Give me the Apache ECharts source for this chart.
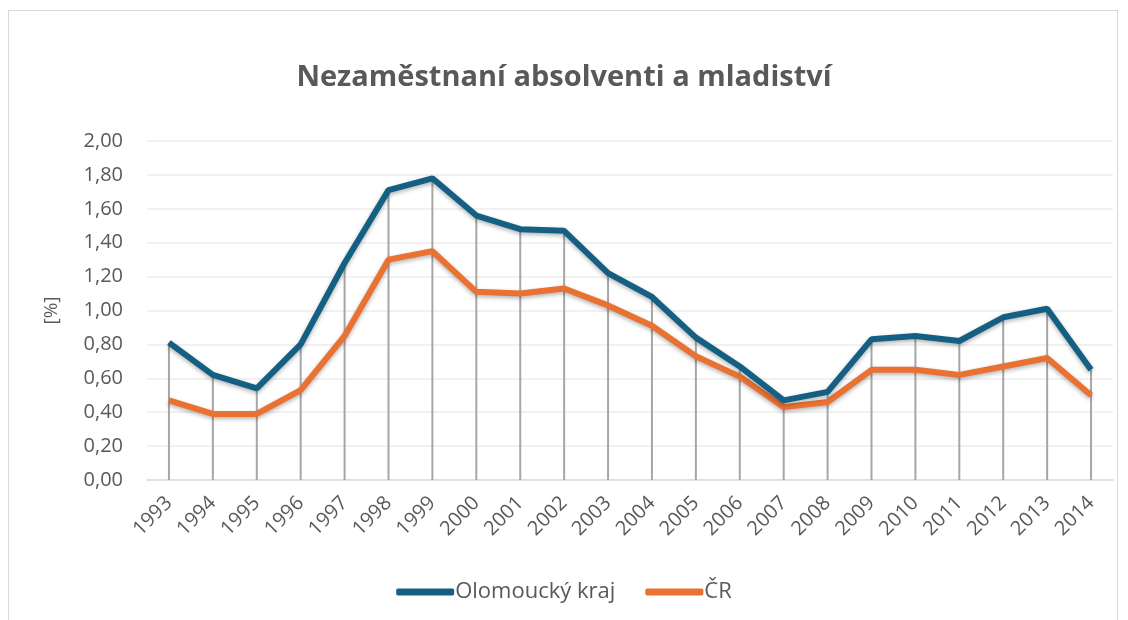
<!DOCTYPE html>
<html>
<head>
<meta charset="utf-8">
<script src="https://cdn.jsdelivr.net/npm/echarts@6/dist/echarts.min.js"></script>
<style>
  html, body { margin: 0; padding: 0; background: #fff; }
  #frame {
    position: absolute; left: 8px; top: 10px; width: 1110px; height: 620px;
    border: 1px solid #d9d9d9; box-sizing: border-box;
  }
  #chart { position: absolute; left: 0; top: 0; width: 1128px; height: 620px; }
</style>
</head>
<body>
<div id="frame"></div>
<div id="chart"></div>
<script>
const years = ['1993', '1994', '1995', '1996', '1997', '1998', '1999', '2000', '2001', '2002', '2003',
  '2004', '2005', '2006', '2007', '2008', '2009', '2010', '2011', '2012', '2013', '2014']
const olomouc = [0.81, 0.62, 0.54, 0.80, 1.28, 1.71, 1.78, 1.56, 1.48, 1.47, 1.22,
  1.08, 0.84, 0.67, 0.47, 0.52, 0.83, 0.85, 0.82, 0.96, 1.01, 0.65]
const cr = [0.47, 0.39, 0.39, 0.53, 0.85, 1.30, 1.35, 1.11, 1.10, 1.13, 1.03,
  0.91, 0.73, 0.61, 0.43, 0.46, 0.65, 0.65, 0.62, 0.67, 0.72, 0.50]

// drop lines reach the higher of the two series
const dropTops = olomouc.map((v, i) => Math.max(v, cr[i]))

const font = '"Open Sans", "Noto Sans", sans-serif'
const chart = echarts.init(document.getElementById('chart'))
chart.setOption({
  animation: false,
  title: {
    text: 'Nezaměstnaní absolventi a mladiství',
    left: 'center',
    top: 58,
    textStyle: { fontFamily: font, fontSize: 29, fontWeight: 'bold', color: '#595959' }
  },
  legend: {
    bottom: 12,
    left: 'center',
    itemWidth: 58,
    itemHeight: 7,
    itemGap: 30,
    icon: 'roundRect',
    textStyle: { fontFamily: font, fontSize: 22, color: '#595959', padding: [0, 0, 0, -4] },
    data: ['Olomoucký kraj', 'ČR']
  },
  grid: { left: 147, right: 15, top: 141, bottom: 140 },
  xAxis: {
    type: 'category',
    data: years,
    axisLine: { lineStyle: { color: '#d9d9d9', width: 1.5 } },
    axisTick: { show: false },
    axisLabel: { rotate: 45, fontFamily: font, fontSize: 20, color: '#595959', margin: 20 }
  },
  yAxis: {
    type: 'value',
    min: 0,
    max: 2,
    interval: 0.2,
    name: '[%]',
    nameLocation: 'middle',
    nameGap: 86,
    nameRotate: 90,
    nameTextStyle: { fontFamily: font, fontSize: 19, color: '#595959' },
    axisLabel: {
      fontFamily: font, fontSize: 20, color: '#595959', margin: 24,
      formatter: v => v.toFixed(2).replace('.', ',')
    },
    splitLine: { lineStyle: { color: '#ececec', width: 1.5 } }
  },
  series: [
    {
      name: 'drop',
      type: 'bar',
      data: dropTops,
      barWidth: 2,
      itemStyle: { color: '#a6a6a6' },
      z: 1,
      silent: true
    },
    {
      name: 'Olomoucký kraj',
      type: 'line',
      data: olomouc,
      symbol: 'none',
      color: '#156082',
      lineStyle: { width: 6, color: '#156082', shadowBlur: 4, shadowOffsetY: 2, shadowColor: 'rgba(0,0,0,0.3)' },
      z: 3
    },
    {
      name: 'ČR',
      type: 'line',
      data: cr,
      symbol: 'none',
      color: '#e97132',
      lineStyle: { width: 6, color: '#e97132', shadowBlur: 4, shadowOffsetY: 2, shadowColor: 'rgba(0,0,0,0.3)' },
      z: 2
    }
  ]
})
</script>
</body>
</html>
